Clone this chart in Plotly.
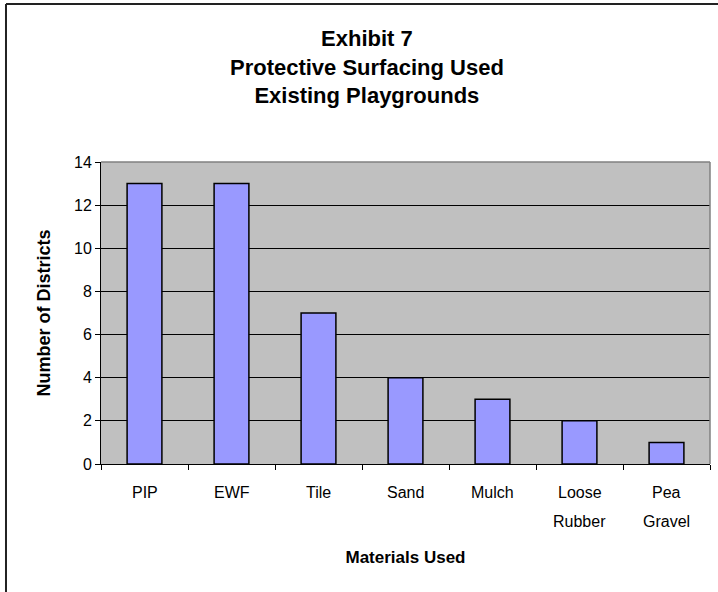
import plotly.graph_objects as go

# Survey results: protective surfacing used at existing playgrounds
categories = ["PIP", "EWF", "Tile", "Sand", "Mulch", "Loose Rubber", "Pea Gravel"]
label_lines = [["PIP"], ["EWF"], ["Tile"], ["Sand"], ["Mulch"], ["Loose", "Rubber"], ["Pea", "Gravel"]]
districts = [13, 13, 7, 4, 3, 2, 1]
y_ticks = [0, 2, 4, 6, 8, 10, 12, 14]

FONT = "Liberation Sans, Arial, sans-serif"

fig = go.Figure(
    go.Bar(
        x=categories,
        y=districts,
        width=0.4,
        marker=dict(color="#9999FF", line=dict(color="black", width=1.5)),
        hoverinfo="x+y",
    )
)

# category labels below the axis, one annotation per text line
annotations = []
for cat, lines in zip(categories, label_lines):
    for i, line in enumerate(lines):
        annotations.append(
            dict(
                x=cat, xref="x", y=0, yref="paper",
                text=line, showarrow=False,
                yanchor="middle", yshift=-28 - 29 * i,
                font=dict(family=FONT, size=16, color="black"),
            )
        )

# plot-area frame (top and right edges) and outer chart border
frame = dict(type="line", xref="paper", yref="paper", layer="above",
             line=dict(color="#808080", width=1.5))
border = dict(type="line", xref="paper", yref="paper", layer="above",
              line=dict(color="#222222", width=2))
shapes = [
    dict(frame, x0=0, x1=1, y0=1, y1=1),
    dict(frame, x0=1, x1=1, y0=0, y1=1),
    dict(border, x0=-0.156, x1=1.02, y0=1.523, y1=1.523),
    dict(border, x0=-0.156, x1=-0.156, y0=1.523, y1=-0.5),
]

fig.update_layout(
    width=718,
    height=592,
    margin=dict(l=101, r=8, t=162, b=128),
    paper_bgcolor="white",
    plot_bgcolor="#C0C0C0",
    showlegend=False,
    font=dict(family=FONT, color="black"),
    title=dict(
        text="<b>Exhibit 7<br>Protective Surfacing Used<br>Existing Playgrounds</b>",
        x=0.511, xref="container", xanchor="center",
        y=1 - 46 / 592, yref="container", yanchor="middle",
        font=dict(family=FONT, size=22, color="black"),
    ),
    xaxis=dict(
        type="category",
        range=[-0.5, 6.5],
        tickson="boundaries",
        ticks="outside", ticklen=5, tickcolor="black", tickwidth=1,
        showticklabels=False,
        showline=True, linecolor="black", linewidth=1,
        showgrid=False,
        title=dict(text="<b>Materials Used</b>", standoff=87,
                   font=dict(family=FONT, size=17, color="black")),
    ),
    yaxis=dict(
        range=[0, 14],
        tickvals=y_ticks,
        ticks="outside", ticklen=5, tickcolor="black", tickwidth=1,
        tickfont=dict(family=FONT, size=16, color="black"),
        showline=True, linecolor="black", linewidth=1,
        showgrid=True, gridcolor="black", gridwidth=1,
        zeroline=False,
        title=dict(text="<b>Number of Districts</b>", standoff=18,
                   font=dict(family=FONT, size=18, color="black")),
    ),
    annotations=annotations,
    shapes=shapes,
)

fig.write_html("out.html")
